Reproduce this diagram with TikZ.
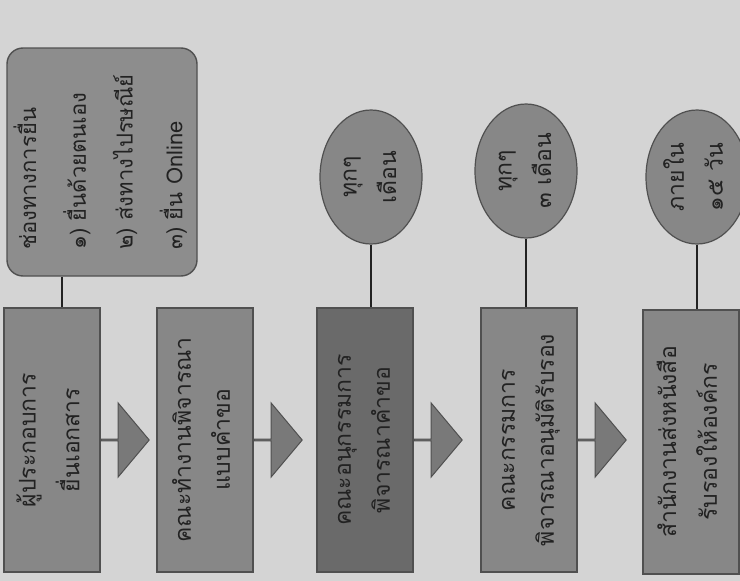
\documentclass[tikz,border=0pt]{standalone}
\usepackage{fontspec}
\usepackage{graphicx}
\newfontfamily\thaifont[Script=Thai]{Loma}
\usetikzlibrary{shapes.geometric,shapes.arrows,positioning,calc}
\definecolor{paper}{HTML}{D4D4D4}
\definecolor{boxgray}{HTML}{878787}
\definecolor{deepgray}{HTML}{6A6A6A}
\definecolor{edgegray}{HTML}{505050}
\definecolor{inkgray}{HTML}{222222}
\newcommand\vtext[2]{\rotatebox{90}{\begin{tabular}{@{}c@{}}#1\\[12pt]#2\end{tabular}}}
\tikzset{
  stepbox/.style={draw=edgegray, line width=1.4pt, fill=boxgray, minimum width=96,
    minimum height=264, inner sep=0pt, text=inkgray, font=\thaifont\fontsize{23}{27}\selectfont},
  chanbox/.style={stepbox, rounded corners=16pt, fill=boxgray!95!white, minimum width=190,
    minimum height=228, font=\thaifont\fontsize{22}{27}\selectfont},
  period/.style={ellipse, draw=edgegray, line width=1.2pt, fill=boxgray, minimum width=102,
    minimum height=134, inner sep=0pt, text=inkgray, font=\thaifont\fontsize{23}{27}\selectfont},
  flowarrow/.style={single arrow, draw=edgegray, line width=1pt, fill=boxgray!90!black, inner sep=0pt,
    minimum height=48, minimum width=74, single arrow head extend=22, single arrow tip angle=100},
  stem/.style={draw=inkgray, line width=1.4pt}
}

\begin{document}
\begin{tikzpicture}[x=1pt,y=-1pt]
  \fill[paper] (0,0) rectangle (740,581);
  \useasboundingbox (0,0) rectangle (740,581);

  % channels
  \node[chanbox] (chan) at (102,162) {\rotatebox{90}{\begin{tabular}{@{}l@{}}
      ช่องทางการยื่น\\[19pt] ๑) ยื่นด้วยตนเอง\\[19pt] ๒) ส่งทางไปรษณีย์\\[19pt] ๓) ยื่น Online\end{tabular}}};

  % steps
  \node[stepbox] (b1) at (52,440) {\vtext{ผู้ประกอบการ}{ยื่นเอกสาร}};
  \node[stepbox] (b2) at (205,440) {\vtext{คณะทำงานพิจารณา}{แบบคำขอ}};
  \node[stepbox, fill=deepgray] (b3) at (365,440) {\vtext{คณะอนุกรรมการ}{พิจารณาคำขอ}};
  \node[stepbox] (b4) at (529,440) {\vtext{คณะกรรมการ}{พิจารณาอนุมัติรับรอง}};
  \node[stepbox] (b5) at (691,442) {\vtext{สำนักงานส่งหนังสือ}{รับรองให้องค์กร}};

  \node[flowarrow, right=0pt of b1] (a1) {};
  \node[flowarrow, right=0pt of b2] (a2) {};
  \node[flowarrow, right=0pt of b3] (a3) {};
  \node[flowarrow, right=0pt of b4] (a4) {};

  % time limits
  \node[period] (e3) at (371,177) {\vtext{ทุกๆ}{เดือน}};
  \node[period] (e4) at (526,171) {\vtext{ทุกๆ}{๓ เดือน}};
  \node[period] (e5) at (697,177) {\vtext{ภายใน}{๑๕ วัน}};

  \coordinate (c1) at ($(chan.south)+(-40,0)$);
  \draw[stem] (c1) -- (c1 |- b1.north);
  \draw[stem] (e3.south) -- (e3.south |- b3.north);
  \draw[stem] (e4.south) -- (e4.south |- b4.north);
  \draw[stem] (e5.south) -- (e5.south |- b5.north);
\end{tikzpicture}
\end{document}
